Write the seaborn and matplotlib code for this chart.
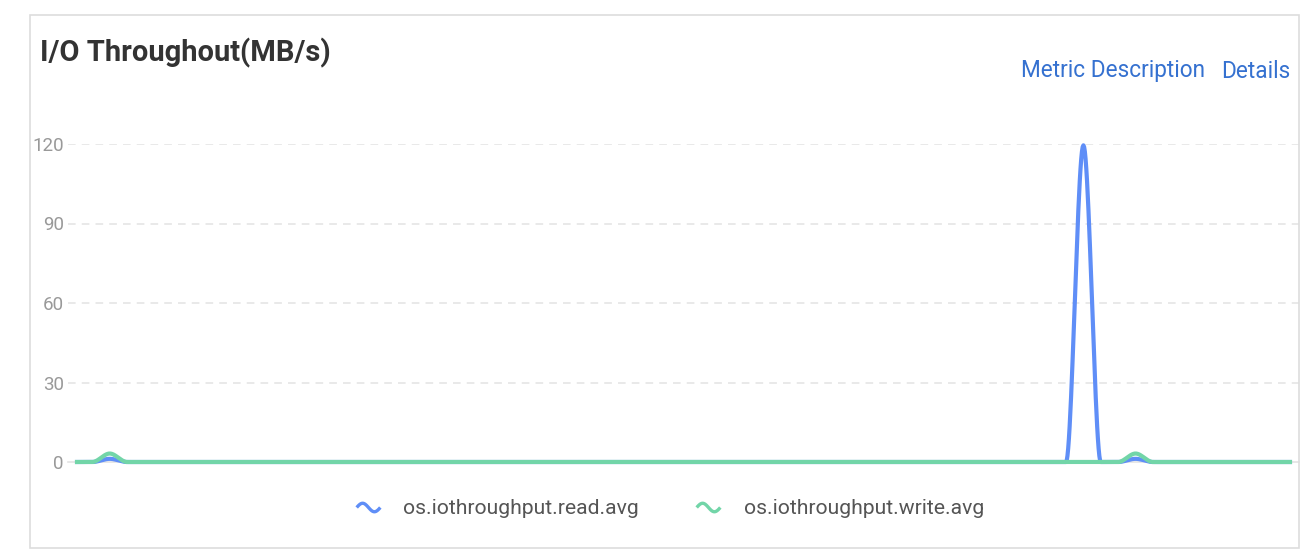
import numpy as np
import pandas as pd
import matplotlib
matplotlib.use("Agg")
import matplotlib.pyplot as plt
from matplotlib.lines import Line2D
from matplotlib.path import Path
from matplotlib.patches import Rectangle
import seaborn as sns

# ---------------- data ----------------
title = "I/O Throughout(MB/s)"
links = ["Metric Description", "Details"]
series_names = ["os.iothroughput.read.avg", "os.iothroughput.write.avg"]
y_ticks = [0, 30, 60, 90, 120]

read_avg = [
    0, 0, 1.2, 0, 0, 0, 0, 0, 0, 0,
    0, 0, 0, 0, 0, 0, 0, 0, 0, 0,
    0, 0, 0, 0, 0, 0, 0, 0, 0, 0,
    0, 0, 0, 0, 0, 0, 0, 0, 0, 0,
    0, 0, 0, 0, 0, 0, 0, 0, 0, 0,
    0, 0, 0, 0, 0, 0, 0, 0, 119.5, 0,
    0, 1.2, 0, 0, 0, 0, 0, 0, 0, 0,
    0,
]
write_avg = [
    0, 0, 3.2, 0, 0, 0, 0, 0, 0, 0,
    0, 0, 0, 0, 0, 0, 0, 0, 0, 0,
    0, 0, 0, 0, 0, 0, 0, 0, 0, 0,
    0, 0, 0, 0, 0, 0, 0, 0, 0, 0,
    0, 0, 0, 0, 0, 0, 0, 0, 0, 0,
    0, 0, 0, 0, 0, 0, 0, 0, 0, 0,
    0, 3.2, 0, 0, 0, 0, 0, 0, 0, 0,
    0,
]

colors = ["#5F8EF7", "#72D5A8"]


def pchip_render(y, per=24):
    """Monotone cubic rendering of the series (smooth line like the source)."""
    y = np.asarray(y, float)
    n = len(y)
    x = np.arange(n, dtype=float)
    d = np.diff(y)
    m = np.zeros(n)
    for k in range(1, n - 1):
        if d[k - 1] * d[k] > 0:
            m[k] = 2.0 / (1.0 / d[k - 1] + 1.0 / d[k])
    xs, ys = [], []
    for k in range(n - 1):
        t = np.linspace(0, 1, per, endpoint=False)
        h00 = 2 * t**3 - 3 * t**2 + 1
        h10 = t**3 - 2 * t**2 + t
        h01 = -2 * t**3 + 3 * t**2
        h11 = t**3 - t**2
        xs.append(x[k] + t)
        ys.append(h00 * y[k] + h10 * m[k] + h01 * y[k + 1] + h11 * m[k + 1])
    xs.append([x[-1]])
    ys.append([y[-1]])
    return np.concatenate(xs), np.concatenate(ys)


sns.set_theme(style="white")
plt.rcParams["font.family"] = ["Roboto", "DejaVu Sans"]

W, H = 1310, 558
fig = plt.figure(figsize=(W / 100, H / 100), dpi=100)

# card border
fig.patches.append(Rectangle((30 / W, 1 - 548 / H), 1269 / W, 533 / H,
                             transform=fig.transFigure, fill=False,
                             edgecolor="#dddddd", linewidth=1.2))

ax = fig.add_axes([68 / W, 1 - 462 / H, (1299 - 68) / W, (462 - 144) / H])

n = len(read_avg)
frames = []
for name, vals in zip(series_names, [read_avg, write_avg]):
    xs, ys = pchip_render(vals)
    frames.append(pd.DataFrame({"idx": xs, "value": ys, "series": name}))
df = pd.concat(frames, ignore_index=True)

sns.lineplot(data=df, x="idx", y="value", hue="series", palette=colors,
             linewidth=3, ax=ax, legend=False, sort=False, estimator=None)
for ln in ax.get_lines():
    ln.set_clip_on(False)
    ln.set_solid_capstyle("butt")

ax.set_xlim(-0.40, n - 1 + 0.40)
ax.set_ylim(0, 120)
ax.set_yticks(y_ticks)
ax.set_yticklabels([str(v) for v in y_ticks])
ax.set_xticks([])
ax.tick_params(axis="y", length=0, pad=3, labelsize=13.5, labelcolor="#999999")
for s in ["top", "right", "left"]:
    ax.spines[s].set_visible(False)
ax.spines["bottom"].set_color("#e3e3e3")
ax.spines["bottom"].set_linewidth(1.2)
ax.spines["bottom"].set_zorder(0)
for v in y_ticks[1:]:
    ax.axhline(v, color="#e3e3e3", linewidth=1.1, linestyle=(0, (5, 4)), zorder=0)
ax.set_xlabel("")
ax.set_ylabel("")
ax.set_facecolor("none")

# title and links
fig.text(40 / W, 1 - 53 / H, title, fontsize=21, fontweight="bold",
         color="#333333", ha="left", va="center")
fig.text(1290 / W, 1 - 71 / H, links[1], fontsize=16.3, color="#3571d0",
         ha="right", va="center")
fig.text(1205 / W, 1 - 71 / H, links[0], fontsize=16.3, color="#3571d0",
         ha="right", va="center")

# legend with wave icons
tt = np.linspace(0, 2 * np.pi, 40)
wave = Path(np.column_stack([tt / np.pi - 1, 0.36 * np.sin(tt)]))
handles = [Line2D([], [], linestyle="none", marker=wave, markersize=17,
                  markerfacecolor="none", markeredgecolor=c, markeredgewidth=2.4)
           for c in colors]
fig.legend(handles, series_names, loc="center", bbox_to_anchor=(670 / W, 1 - 509 / H),
           ncol=2, frameon=False, fontsize=15.2, labelcolor="#555555",
           handletextpad=1.1, columnspacing=2.7, handlelength=1.15)

fig.savefig("out.png", dpi=100, facecolor="white")
